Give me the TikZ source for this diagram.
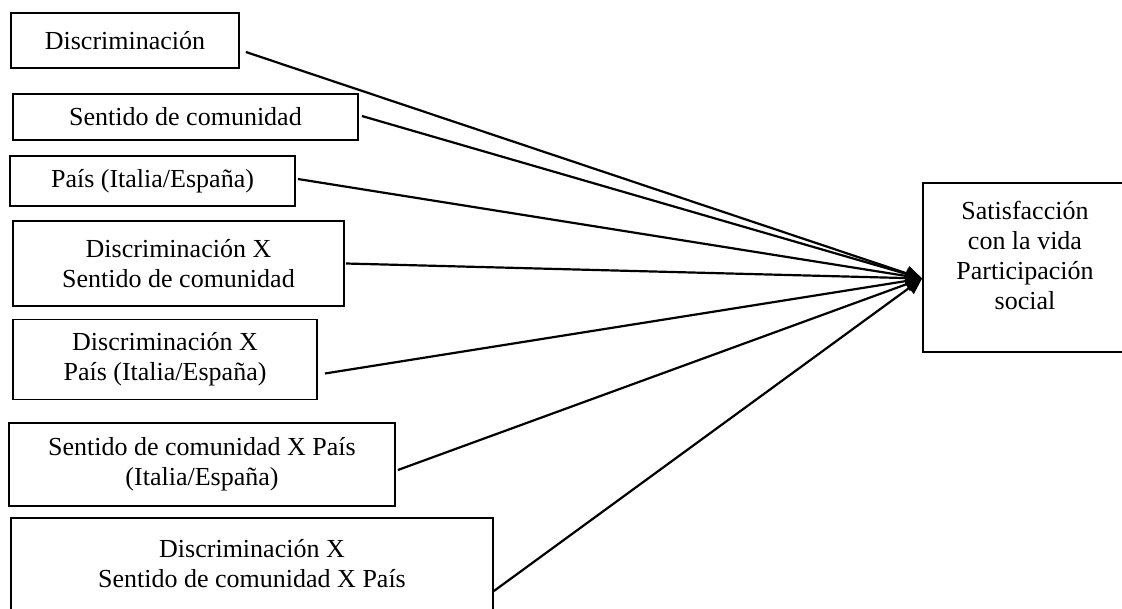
\documentclass[tikz,border=0pt]{standalone}
\usepackage{fontspec}
\setmainfont{Liberation Serif}
\usetikzlibrary{arrows.meta}
\tikzset{
  box/.style={draw, line width=1.8pt, inner sep=0pt, align=center,
    font=\fontsize{26}{30}\selectfont},
  link/.style={line width=2.2pt, -{Triangle[length=16pt,width=15pt]}},
}
\begin{document}
\begin{tikzpicture}[x=1pt,y=-1pt]
\useasboundingbox (0,0) rectangle (1122,608);
\node[box, minimum width=228pt, minimum height=55pt] (b1) at (125,40.5) {Discriminación};
\node[box, minimum width=345pt, minimum height=46pt] (b2) at (185.5,117) {Sentido de comunidad};
\node[box, minimum width=285pt, minimum height=50pt] (b3) at (152.5,181) {País (Italia/España)};
\node[box, minimum width=331pt, minimum height=85pt] (b4) at (178.5,263.5) {Discriminación X\\Sentido de comunidad};
\node[box, minimum width=304pt, minimum height=80pt] (b5) at (165,359.5) {Discriminación X\\País (Italia/España)};
\node[box, minimum width=386pt, minimum height=83pt] (b6) at (202,464.5) {Sentido de comunidad X País\\(Italia/España)};
\node[box, minimum width=482pt, minimum height=92pt] (b7) at (252,564) {Discriminación X\\Sentido de comunidad X País};
\node[box, minimum width=210pt, minimum height=169pt] (tgt) at (1028,267.5) {};
\node[font=\fontsize{26}{30}\selectfont, align=center, inner sep=0pt] (tgtlabel) at (1025,255) {Satisfacción\\con la vida\\Participación\\social};
\coordinate (tip) at ([yshift=-11pt]tgt.west);
\draw[link] ([xshift=6pt,yshift=-11.5pt]b1.east) -- (tip);
\draw[link] ([xshift=3pt,yshift=1pt]b2.east) -- (tip);
\draw[link] ([xshift=2pt,yshift=2pt]b3.east) -- (tip);
\draw[link] ([xshift=1pt]b4.east) -- (tip);
\draw[link] ([xshift=7pt,yshift=-14pt]b5.east) -- (tip);
\draw[link] ([xshift=2pt,yshift=-5.5pt]b6.east) -- (tip);
\draw[link] ([yshift=-27pt]b7.east) -- (tip);
\end{tikzpicture}
\end{document}
